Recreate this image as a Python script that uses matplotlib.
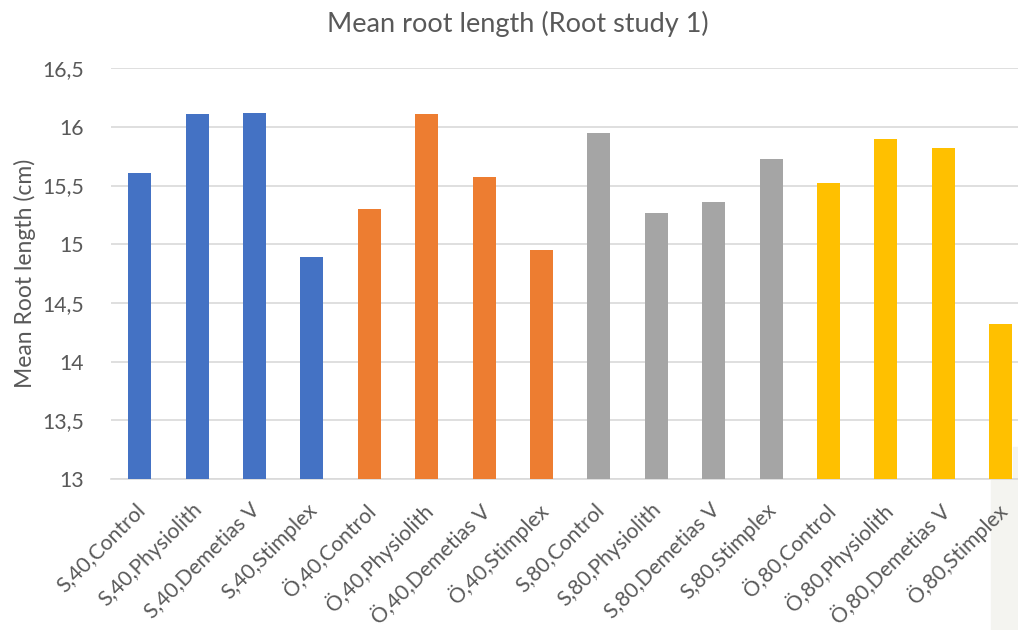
import matplotlib.pyplot as plt
from matplotlib.patches import Rectangle
import matplotlib.transforms as mtransforms
import numpy as np

plt.rcParams['font.family'] = ['Lato', 'DejaVu Sans']

# treatments: soil, dose, product
labels = ['S,40,Control', 'S,40,Physiolith', 'S,40,Demetias V', 'S,40,Stimplex',
          'Ö,40,Control', 'Ö,40,Physiolith', 'Ö,40,Demetias V', 'Ö,40,Stimplex',
          'S,80,Control', 'S,80,Physiolith', 'S,80,Demetias V', 'S,80,Stimplex',
          'Ö,80,Control', 'Ö,80,Physiolith', 'Ö,80,Demetias V', 'Ö,80,Stimplex']
root_len = [15.61, 16.11, 16.12, 14.89,
            15.30, 16.11, 15.57, 14.95,
            15.95, 15.27, 15.36, 15.73,
            15.52, 15.90, 15.82, 14.32]
group_cols = ['#4472C4', '#ED7D31', '#A5A5A5', '#FFC000']
yticks = [13, 13.5, 14, 14.5, 15, 15.5, 16, 16.5]

txt = '#595959'
cols = [group_cols[i // 4] for i in range(len(root_len))]

fig = plt.figure(figsize=(10.18, 6.3), dpi=100)
ax = fig.add_axes([0.109, 0.2397, 0.891, 0.652])
ax.set_zorder(1)
ax.patch.set_alpha(0)

x = np.arange(len(root_len))
ax.bar(x, root_len, width=0.40, color=cols, zorder=3, bottom=0)
ax.set_ylim(13, 16.5)
ax.set_xlim(-0.5, 15.3)

ax.set_yticks(yticks)
ax.set_yticklabels([f'{t:g}'.replace('.', ',') for t in yticks], fontsize=15.3, color=txt)
ax.set_xticks(x)
ax.set_xticklabels(labels, rotation=45, ha='right', rotation_mode='anchor',
                   fontsize=15.2, color=txt)
ax.tick_params(axis='both', length=0)
ax.tick_params(axis='y', pad=19.5)
ax.tick_params(axis='x', pad=9)

# nudge the slanted labels down and left
shift = mtransforms.ScaledTranslation(-5 / 100, -8 / 100, fig.dpi_scale_trans)
for lbl in ax.get_xticklabels():
    lbl.set_transform(lbl.get_transform() + shift)

ax.grid(axis='y', color='#d9d9d9', linewidth=1.2, zorder=0)
for s in ['top', 'right', 'left']:
    ax.spines[s].set_visible(False)
ax.spines['bottom'].set_color('#d9d9d9')
ax.spines['bottom'].set_linewidth(1.2)

ax.set_ylabel('Mean Root length (cm)', fontsize=16.5, color=txt, labelpad=4)
fig.text(0.509, 0.962, 'Mean root length (Root study 1)', ha='center', va='center',
         fontsize=19.5, color=txt)

# light panel edge at the lower right
fig.patches.append(Rectangle((991 / 1018, 0), 27 / 1018, 150 / 630,
                             transform=fig.transFigure, color='#f4f4f0', zorder=0))
fig.patches.append(Rectangle((1013 / 1018, 150 / 630), 5 / 1018, 33 / 630,
                             transform=fig.transFigure, color='#f4f4f0', zorder=0))

fig.savefig('out.png', dpi=100)
